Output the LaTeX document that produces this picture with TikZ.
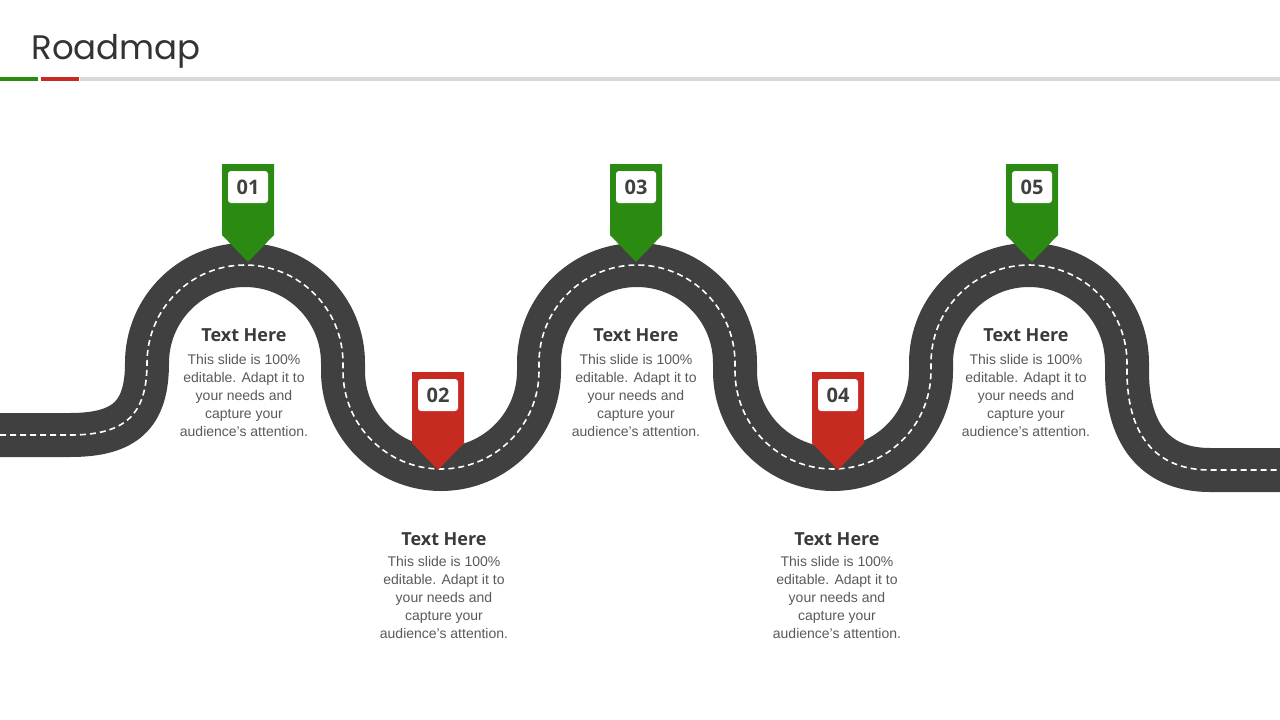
\documentclass[tikz,border=0pt]{standalone}
\usepackage{fontspec}
\setmainfont{Liberation Sans}
\newfontfamily\headfont{Poppins}
\newfontfamily\boldfont{Open Sans}
\usetikzlibrary{positioning}
\definecolor{roadgray}{HTML}{404040}
\definecolor{pingreen}{HTML}{2A8A12}
\definecolor{pinred}{HTML}{C62A20}
\definecolor{bodygray}{HTML}{595959}
\tikzstyle{road} = [line width=44pt, draw=roadgray]
\tikzstyle{lane} = [line width=1.6pt, draw=white, dash pattern=on 6pt off 4pt]
\tikzstyle{badge} = [rectangle, rounded corners=3pt, fill=white, minimum width=40pt, minimum height=32pt, font=\boldfont\bfseries\fontsize{20}{20}\selectfont, text=roadgray]
\tikzstyle{heading} = [font=\boldfont\bfseries\fontsize{18}{18}\selectfont, text=roadgray!90!black]
\tikzstyle{body} = [align=center, font=\fontsize{14}{18}\selectfont, text=bodygray]
\newcommand{\pin}[4]{% x, top y, colour, label
  \fill[#3] (#1-26,#2) -- (#1+26,#2) -- (#1+26,#2+71) -- (#1,#2+98) -- (#1-26,#2+71) -- cycle;
  \node (b#4) [badge] at (#1,#2+23) {#4};}
\begin{document}
\begin{tikzpicture}[x=1pt, y=-1pt]
    \useasboundingbox (0,0) rectangle (1280,720);
    \node (title) [anchor=west, font=\headfont\fontsize{34}{34}\selectfont, text=black!80] at (28,51) {Roadmap};
    \fill[black!15] (80,77) rectangle (1280,81);
    \fill[pingreen] (0,77) rectangle (38,81);
    \fill[pinred] (41,77) rectangle (79,81);
    % road
    \def\roadpath{(0,435) -- (70,435) .. controls (125,435) and (147,415) .. (147,363)
      arc (180:360:98) -- (343,371) arc (180:0:98) -- (539,363) arc (180:360:98)
      -- (735,371) arc (180:0:98) -- (931,363) arc (180:360:98) -- (1127,371)
      .. controls (1127,440) and (1160,470) .. (1210,470) -- (1280,470)}
    \draw[road] \roadpath;
    \draw[lane] \roadpath;
    % pins
    \pin{248}{164}{pingreen}{01}
    \pin{438}{372}{pinred}{02}
    \pin{636}{164}{pingreen}{03}
    \pin{838}{372}{pinred}{04}
    \pin{1032}{164}{pingreen}{05}
    % texts
    \node (h1) [heading] at (244,335) {Text Here};
    \node (t1) [body, below=6pt of h1] {This slide is 100\%\\editable. Adapt it to\\your needs and\\capture your\\audience's attention.};
    \node (h2) [heading] at (444,539) {Text Here};
    \node (t2) [body, below=4pt of h2] {This slide is 100\%\\editable. Adapt it to\\your needs and\\capture your\\audience's attention.};
    \node (h3) [heading] at (636,335) {Text Here};
    \node (t3) [body, below=6pt of h3] {This slide is 100\%\\editable. Adapt it to\\your needs and\\capture your\\audience's attention.};
    \node (h4) [heading] at (837,539) {Text Here};
    \node (t4) [body, below=4pt of h4] {This slide is 100\%\\editable. Adapt it to\\your needs and\\capture your\\audience's attention.};
    \node (h5) [heading] at (1026,335) {Text Here};
    \node (t5) [body, below=6pt of h5] {This slide is 100\%\\editable. Adapt it to\\your needs and\\capture your\\audience's attention.};
\end{tikzpicture}
\end{document}
